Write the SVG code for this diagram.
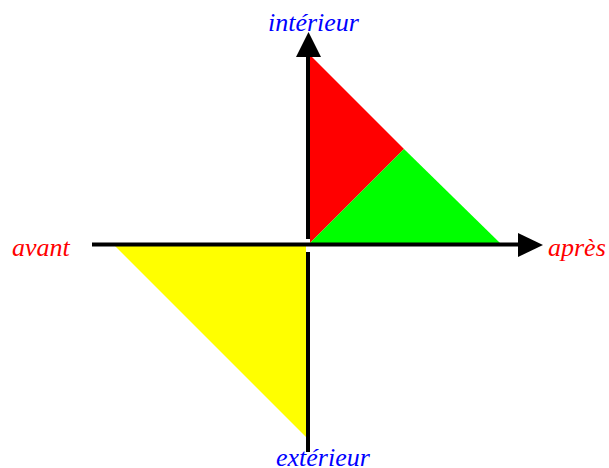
<svg xmlns="http://www.w3.org/2000/svg" width="609" height="468" viewBox="0 0 609 468">
<style>
.lbl{font-family:"Liberation Serif",serif;font-style:italic;font-size:26px}
.ax{stroke:#000;stroke-width:4;fill:none}
</style>
<rect width="609" height="468" fill="#fff"/>
<g id="regions">
<polygon id="red" points="310,55 310,243 404,149" fill="#ff0000"/>
<polygon id="green" points="310,243 404,149 500,243" fill="#00ff00"/>
<polygon id="yellow" points="115,246 306,246 306,437" fill="#ffff00"/>
</g>
<g id="axes">
<line class="ax" x1="92" y1="244.5" x2="520" y2="244.5"/>
<polygon points="518,233 518,257 543,245" fill="#000"/>
<line class="ax" x1="308" y1="56" x2="308" y2="239"/>
<line class="ax" x1="308" y1="252" x2="308" y2="452"/>
<polygon points="296,57 321,57 308.5,32" fill="#000"/>
</g>
<g id="labels">
<text class="lbl" x="268" y="31" fill="#0000ff">intérieur</text>
<text class="lbl" x="276" y="466" fill="#0000ff">extérieur</text>
<text class="lbl" x="12" y="256" fill="#ff0000">avant</text>
<text class="lbl" x="548" y="256" fill="#ff0000">après</text>
</g>
</svg>
